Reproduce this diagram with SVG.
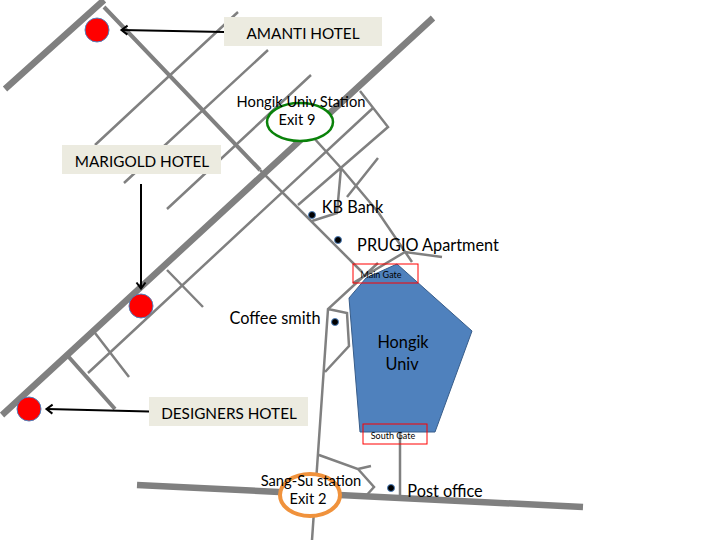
<svg xmlns="http://www.w3.org/2000/svg" width="720" height="540" viewBox="0 0 720 540">
<style>
text{font-family:"Lato","Liberation Sans",sans-serif;fill:#000;text-anchor:middle}
.t16{font-size:16.300px}.t15{font-size:15.300px}.t14{font-size:14.700px}.t8{font-size:9px}
.road{fill:none;stroke:#808080;stroke-linejoin:miter}
.r6{stroke-width:6.500}.r4{stroke-width:4}.r3{stroke-width:2.500}
.hotel{fill:#f00;stroke:#4f81bd;stroke-width:1}
.dot{fill:#000;stroke:#4f81bd;stroke-width:1}
.label{fill:#ecebe0}
.gate{fill:none;stroke:#f00;stroke-width:1}
.arrow{fill:none;stroke:#000;stroke-width:2;marker-end:url(#open)}
</style>
<defs>
<marker id="open" markerUnits="userSpaceOnUse" markerWidth="12" markerHeight="12" refX="9.500" refY="6" orient="auto"><path d="M4 1.500L10 6L4 10.500" fill="none" stroke="#000" stroke-width="2"/></marker>
</defs>
<rect width="720" height="540" fill="#fff"/>
<g id="connectors">
<path class="road r6" d="M5 89L104 0M2 415L433 18M137 485L583 507"/>
<path class="road r4" d="M104 7L260 170M67 355L115 409"/>
<path class="road r3" d="M260 170L362 272M238 12L95 145M268 50L124 183M311 75L167 209M360 91L388 127L298 205M373 108L88 373M313 137L341 168L378 212L412 262M341 168L337 213L312 221M378 158L347 197M353 283L405 252L442 257M378 263L328 309L312 540M328 309L347 313L349 346L325 372M95 333L129 377M167 270L203 307M400 425V497M319 455L358 469L374 487L365 497M358 469L371 466"/>
<path class="arrow" d="M224 32L122 30"/>
<path class="arrow" d="M141 184V288"/>
<path class="arrow" d="M149 411.500L47 409"/>
</g>
<g id="hongik-univ">
<polygon points="397,264 472,331 435,432 360,432 349,298 366,278" fill="#4f81bd" stroke="#385d8a" stroke-width="1"/>
<text class="t16" x="403" y="348">Hongik</text>
<text class="t16" x="402" y="370">Univ</text>
</g>
<g id="main-gate"><rect class="gate" x="353" y="264" width="65" height="19"/><text class="t8" x="381" y="278">Main Gate</text></g>
<g id="south-gate"><rect class="gate" x="363" y="424" width="64" height="20"/><text class="t8" x="393" y="439">South Gate</text></g>
<g id="amanti-hotel"><circle class="hotel" cx="97" cy="30" r="12"/><rect class="label" x="224" y="17" width="158" height="29"/><text class="t15" x="303" y="39">AMANTI HOTEL</text></g>
<g id="marigold-hotel"><circle class="hotel" cx="141" cy="306" r="12"/><rect class="label" x="62" y="145" width="159" height="29"/><text class="t15" x="142" y="167">MARIGOLD HOTEL</text></g>
<g id="designers-hotel"><circle class="hotel" cx="29" cy="409" r="12"/><rect class="label" x="149" y="397" width="159" height="29"/><text class="t15" x="229" y="419">DESIGNERS HOTEL</text></g>
<g id="exit-9"><ellipse cx="300" cy="122" rx="33" ry="19" fill="#fff" stroke="#0a820a" stroke-width="2.500"/><text class="t14" x="301" y="107">Hongik Univ Station</text><text class="t14" x="297" y="125">Exit 9</text></g>
<g id="exit-2"><ellipse cx="310" cy="495" rx="30" ry="21" fill="#fff" stroke="#f0923c" stroke-width="4"/><text class="t14" x="311" y="486">Sang-Su station</text><text class="t14" x="308" y="504">Exit 2</text></g>
<g id="kb-bank"><circle class="dot" cx="312" cy="215" r="3.500"/><text class="t16" x="352.500" y="213">KB Bank</text></g>
<g id="prugio"><circle class="dot" cx="338" cy="240" r="3.500"/><text class="t16" x="428" y="251">PRUGIO Apartment</text></g>
<g id="coffee-smith"><circle class="dot" cx="335" cy="322" r="3.500"/><text class="t16" x="275" y="324">Coffee smith</text></g>
<g id="post-office"><circle class="dot" cx="391" cy="488" r="3.500"/><text class="t16" x="445" y="497">Post office</text></g>
</svg>
